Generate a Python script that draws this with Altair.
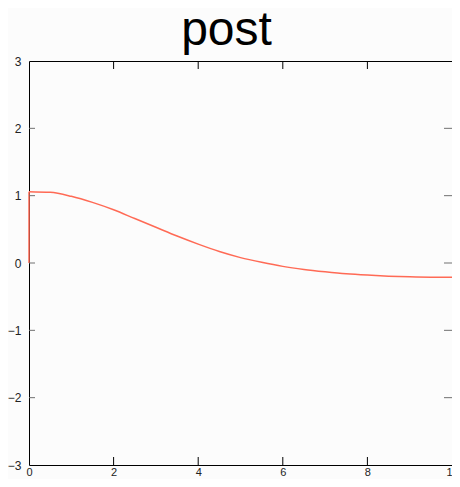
import altair as alt
import pandas as pd

# Curve (x, y)
xs = [0, 0.5, 1.0, 1.5, 2.0, 2.5, 3.0, 3.5, 4.0, 4.5, 5.0, 5.5, 6.0, 6.5, 7.0, 7.5, 8.0, 8.5, 9.0, 9.5, 10.0]
ys = [1.06, 1.05, 0.99, 0.90, 0.79, 0.66, 0.53, 0.40, 0.28, 0.17, 0.08, 0.01, -0.05, -0.095, -0.13, -0.16, -0.18, -0.195, -0.205, -0.21, -0.21]
# vertical jump at x = 0
jump_x = [0]
jump_y0 = [0]
jump_y1 = [1.06]

x_ticks = [0, 2, 4, 6, 8, 10]
y_ticks = [-3, -2, -1, 0, 1, 2, 3]
x_inner_ticks = [2, 4, 6, 8]
y_inner_ticks = [-2, -1, 0, 1, 2]

W, H = 423, 404

df = pd.DataFrame({"x": xs, "y": ys})
jdf = pd.DataFrame({"x": jump_x, "y": jump_y0, "y2": jump_y1})
xt = pd.DataFrame({"x": x_inner_ticks})
yt = pd.DataFrame({"y": y_inner_ticks})

xscale = alt.Scale(domain=[0, 10], nice=False, zero=False)
yscale = alt.Scale(domain=[-3, 3], nice=False, zero=False)

label_font = "Liberation Sans"
RED = "#ff6a55"

line = alt.Chart(df).mark_line(color=RED, strokeWidth=1.5, interpolate="monotone").encode(
    x=alt.X("x:Q", scale=xscale,
            axis=alt.Axis(values=x_ticks, ticks=False, domain=False, grid=False,
                          title=None, labelPadding=1, labelFontSize=11,
                          labelFont=label_font, labelColor="#222", format="d",
                          labelFlush=False, labelOverlap=False)),
    y=alt.Y("y:Q", scale=yscale,
            axis=alt.Axis(values=y_ticks, ticks=False, domain=False, grid=False,
                          title=None, labelPadding=8, labelFontSize=12,
                          labelFont=label_font, labelColor="#222", format="d",
                          labelFlush=False, labelOverlap=False)),
)

jump = alt.Chart(jdf).mark_rule(color=RED, strokeWidth=1.5).encode(
    x=alt.X("x:Q", scale=xscale), y=alt.Y("y:Q", scale=yscale), y2="y2:Q")

bottom_ticks = alt.Chart(xt).mark_rule(color="black", strokeWidth=1).encode(
    x=alt.X("x:Q", scale=xscale), y=alt.value(H), y2=alt.value(H - 8))
top_ticks = alt.Chart(xt).mark_rule(color="black", strokeWidth=1).encode(
    x=alt.X("x:Q", scale=xscale), y=alt.value(0), y2=alt.value(8))
left_ticks = alt.Chart(yt).mark_rule(color="#707070", strokeWidth=1).encode(
    y=alt.Y("y:Q", scale=yscale), x=alt.value(0), x2=alt.value(6))
right_ticks = alt.Chart(yt).mark_rule(color="#707070", strokeWidth=1).encode(
    y=alt.Y("y:Q", scale=yscale), x=alt.value(W - 8), x2=alt.value(W))

chart = alt.layer(line, jump, bottom_ticks, top_ticks, left_ticks, right_ticks).properties(
    width=W, height=H,
    title=alt.TitleParams(text="post", fontSize=48, font="Liberation Sans",
                          fontWeight="normal", color="black", anchor="middle",
                          dx=-14, offset=0),
    autosize=alt.AutoSizeParams(type="none"),
    padding={"left": 21, "top": 53, "right": 0, "bottom": 14},
    background="#fcfcfc",
).configure_view(stroke="black", strokeWidth=1, fill="#fcfcfc")

chart.save("out.html", embed_options={"renderer": "svg", "actions": False})
